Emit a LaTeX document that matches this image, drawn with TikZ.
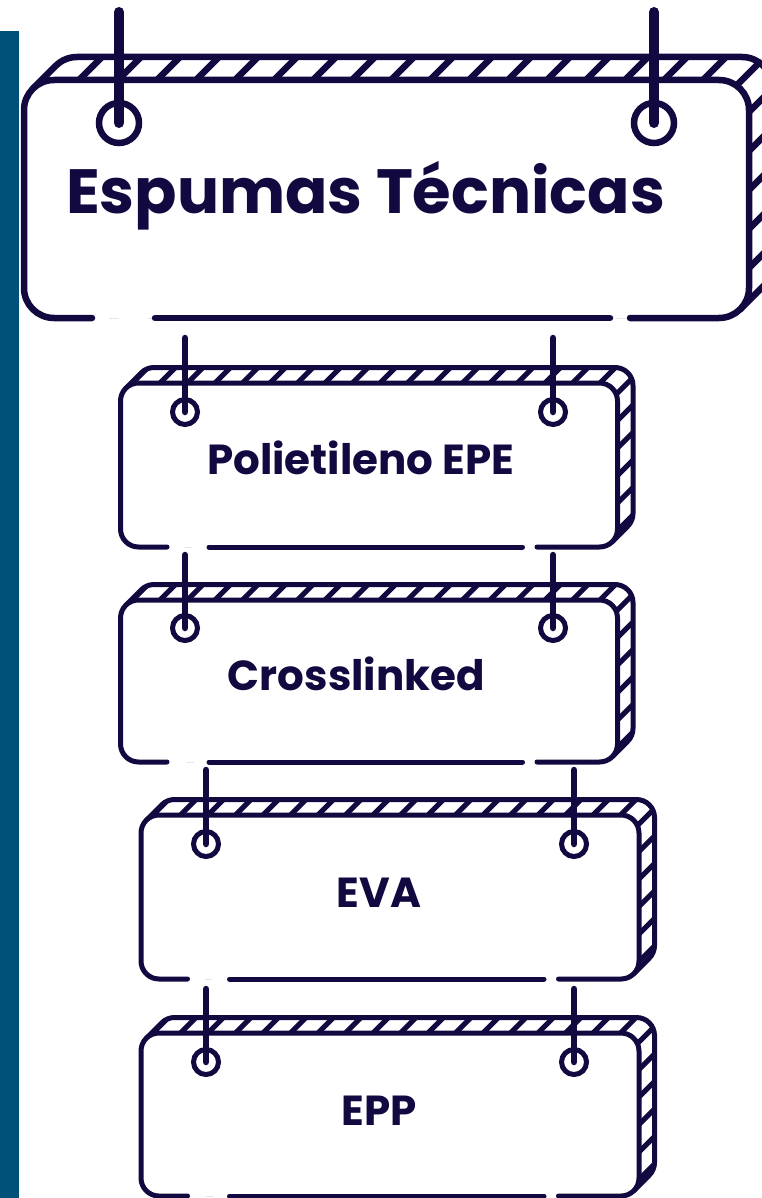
\documentclass[tikz,border=0pt]{standalone}
\usepackage{fontspec}
\setmainfont{Poppins}
\definecolor{navy}{RGB}{17,9,64}
\definecolor{barblue}{RGB}{0,81,122}
% #1 L, #2 T (px, downwards), #3 R, #4 B, #5 depth, #6 corner radius, #7 hatch spacing, #8 line width
\newcommand\signbox[8]{%
 \pgfmathsetmacro\SgL{#1}%
 \pgfmathsetmacro\SgT{-(#2)}%
 \pgfmathsetmacro\SgR{#3}%
 \pgfmathsetmacro\SgB{-(#4)}%
 \pgfmathsetmacro\Sgd{#5}%
 \pgfmathsetmacro\Sgr{#6}%
 \pgfmathsetmacro\Sgk{#6*0.70711}%
 \pgfmathsetmacro\SgS{#7}%
 \pgfmathsetmacro\SgC{\SgL-(\SgT)-\Sgd-\SgS}%
 \pgfmathsetmacro\SgH{\SgT+\Sgd-(\SgB)+10}%
 \pgfmathtruncatemacro\SgN{((\SgR+\Sgd-(\SgB))-(\SgL-(\SgT)-\Sgd))/\SgS+2}%
 \begin{scope}[line width=#8, draw=navy, line cap=round, line join=round]
  \begin{scope}
   \clip ({\SgL+\Sgr-\Sgk},{\SgT-\Sgr+\Sgk}) -- ({\SgL+\Sgd+\Sgr-\Sgk},{\SgT+\Sgd-\Sgr+\Sgk})
     arc[start angle=135,end angle=90,radius=\Sgr] -- ({\SgR+\Sgd-\Sgr},{\SgT+\Sgd})
     arc[start angle=90,end angle=0,radius=\Sgr] -- ({\SgR+\Sgd},{\SgB+\Sgd+\Sgr})
     arc[start angle=0,end angle=-45,radius=\Sgr] -- ({\SgR-\Sgr+\Sgk},{\SgB+\Sgr-\Sgk})
     arc[start angle=-45,end angle=-90,radius=\Sgr] -- ({\SgL+\Sgr},{\SgB})
     arc[start angle=-90,end angle=-180,radius=\Sgr] -- ({\SgL},{\SgT-\Sgr})
     arc[start angle=180,end angle=135,radius=\Sgr] -- cycle;
   \foreach \i in {0,...,\SgN}{\draw[line cap=butt] ({\SgC+\i*\SgS+(\SgB)-5},{\SgB-5}) -- ++(\SgH,\SgH);}
  \end{scope}
  \draw ({\SgL+\Sgr-\Sgk},{\SgT-\Sgr+\Sgk}) -- ({\SgL+\Sgd+\Sgr-\Sgk},{\SgT+\Sgd-\Sgr+\Sgk})
     arc[start angle=135,end angle=90,radius=\Sgr] -- ({\SgR+\Sgd-\Sgr},{\SgT+\Sgd})
     arc[start angle=90,end angle=0,radius=\Sgr] -- ({\SgR+\Sgd},{\SgB+\Sgd+\Sgr})
     arc[start angle=0,end angle=-45,radius=\Sgr] -- ({\SgR-\Sgr+\Sgk},{\SgB+\Sgr-\Sgk});
  \fill[white] ({\SgR-\Sgr},{\SgB}) arc[start angle=-90,end angle=0,radius=\Sgr]
     -- ({\SgR},{\SgT-\Sgr}) arc[start angle=0,end angle=90,radius=\Sgr]
     -- ({\SgL+\Sgr},{\SgT}) arc[start angle=90,end angle=180,radius=\Sgr]
     -- ({\SgL},{\SgB+\Sgr}) arc[start angle=180,end angle=270,radius=\Sgr] -- cycle;
  \draw ({\SgL+\gLb},{\SgB}) -- ({\SgR-\gRa},{\SgB});
  \draw ({\SgR-\gRb},{\SgB}) -- ({\SgR-\Sgr},{\SgB}) arc[start angle=-90,end angle=0,radius=\Sgr]
     -- ({\SgR},{\SgT-\Sgr}) arc[start angle=0,end angle=90,radius=\Sgr]
     -- ({\SgL+\Sgr},{\SgT}) arc[start angle=90,end angle=180,radius=\Sgr]
     -- ({\SgL},{\SgB+\Sgr}) arc[start angle=180,end angle=270,radius=\Sgr] -- ({\SgL+\gLa},{\SgB});
 \end{scope}}
% #1 name, #2 x, #3 rod top, #4 circle centre y, #5 circle radius, #6 rod width, #7 circle line width
\newcommand\hanger[7]{%
 \coordinate (#1top) at (#2,-#3);
 \coordinate (#1eye) at (#2,-#4);
 \draw[navy, line width=#7, fill=white] (#1eye) circle (#5);
 \draw[navy, line width=#6, line cap=round] (#1top) -- (#1eye);}
\tikzset{lbl/.style={text=navy, inner sep=0pt, anchor=base}}
\begin{document}
\begin{tikzpicture}[x=1pt,y=1pt]
\useasboundingbox (0,0) rectangle (762,-1198);
\clip (0,0) rectangle (762,-1198);
\fill[barblue] (0,-31) rectangle (19,-1198);
% top sign
\def\gLa{68}\def\gLb{131}\def\gRa{139}\def\gRb{119}
\signbox{24}{80}{749}{318}{23}{30}{39}{6.5pt}
\hanger{h1a}{119}{12}{123}{20}{10pt}{6.5pt}
\hanger{h1b}{654}{12}{123}{20}{10pt}{6.5pt}
\node[lbl, font=\fontsize{62.5}{62.5}\selectfont\bfseries] (title) at (365.5,-214) {Espumas Técnicas};
% small signs
\def\gLa{46.5}\def\gLb{88.5}\def\gRa{95}\def\gRb{80.5}
\signbox{120.5}{383}{617.5}{547}{15.5}{18}{27.5}{5pt}
\hanger{h2a}{185}{338}{412}{12.5}{6.5pt}{5pt}
\hanger{h2b}{553}{338}{412}{12.5}{6.5pt}{5pt}
\node[lbl, font=\fontsize{42}{42}\selectfont\bfseries] (epe) at (360.7,-474) {Polietileno EPE};
\signbox{120.5}{600}{617.5}{762}{15.5}{18}{27.5}{5pt}
\hanger{h3a}{185}{555}{628}{12.5}{6.5pt}{5pt}
\hanger{h3b}{553}{555}{628}{12.5}{6.5pt}{5pt}
\node[lbl, font=\fontsize{42}{42}\selectfont\bfseries] (xl) at (356.5,-690) {Crosslinked};
\signbox{141}{815}{639}{979}{15.5}{18}{27.5}{5pt}
\hanger{h4a}{206}{770}{844}{12.5}{6.5pt}{5pt}
\hanger{h4b}{574}{770}{844}{12.5}{6.5pt}{5pt}
\node[lbl, font=\fontsize{42}{42}\selectfont\bfseries] (eva) at (379,-907) {EVA};
\signbox{141}{1033}{639}{1196}{15.5}{18}{27.5}{5pt}
\hanger{h5a}{206}{989}{1062}{12.5}{6.5pt}{5pt}
\hanger{h5b}{574}{989}{1062}{12.5}{6.5pt}{5pt}
\node[lbl, font=\fontsize{42}{42}\selectfont\bfseries] (epp) at (379,-1125) {EPP};
\end{tikzpicture}
\end{document}
